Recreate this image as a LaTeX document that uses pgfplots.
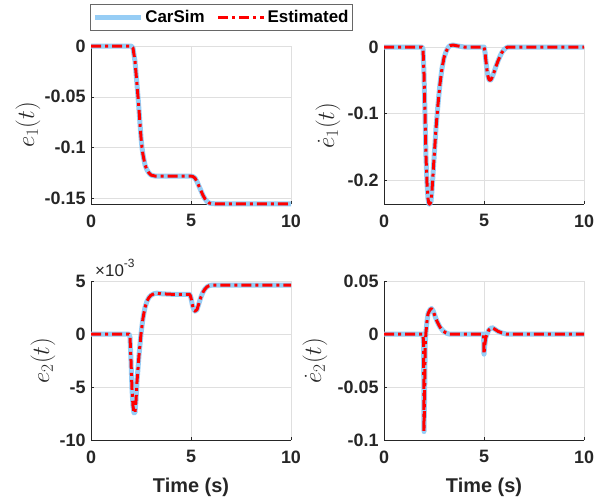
\documentclass[border=0pt]{standalone}
\usepackage{fontspec}
\setmainfont{Liberation Sans}
\usepackage{pgfplots}
\pgfplotsset{compat=1.18}
\definecolor{carsim}{RGB}{150,205,245}
\definecolor{axgray}{RGB}{38,38,38}
\begin{document}
\begin{tikzpicture}
\path[use as bounding box] (0bp,0bp) rectangle (607bp,-499bp);
\pgfplotsset{
  myax/.style={
    scale only axis, width=200bp, anchor=south west,
    xmin=0,xmax=10, xtick={0,5,10}, xticklabels={0,5,10},
    axis x line*=bottom, axis y line*=left,
    axis line style={axgray, line width=0.6bp},
    tick style={axgray, line width=0.6bp},
    tick align=inside, major tick length=3bp,
    grid=major, major grid style={line width=0.5bp, gray!25},
    ticklabel style={font=\fontsize{18}{18}\selectfont\bfseries, text=axgray},
    yticklabel style={xshift=-2bp},
    xticklabel style={yshift=-7bp},
    /pgf/number format/assume math mode=true,
    scaled ticks=false,
    clip=false,
    ylabel style={anchor=center, font=\fontsize{24}{24}\selectfont, text=axgray},
    xlabel style={anchor=center, font=\fontsize{20}{20}\selectfont\bfseries, text=axgray},
  },
  cs/.style={carsim, line width=5bp, line join=round},
  est/.style={red, line width=3bp, dash pattern=on 10bp off 4bp on 3bp off 4bp, line join=round},
}
% ---------- top left: e1 ----------
\begin{axis}[myax, at={(91bp,-204bp)}, height=158bp,
  ymin=-0.1555, ymax=0,
  ytick={-0.15,-0.1,-0.05,0}, yticklabels={-0.15,-0.1,-0.05,0},
  ylabel={$e_1(t)$}, ylabel style={at={(axis description cs:-0.315,0.5)}},
  legend columns=2,
  legend style={at={(axis description cs:-0.005,1.266)}, anchor=north west,
    draw=axgray!70, line width=0.6bp, text=black,
    font=\fontsize{17}{17}\selectfont\bfseries, inner xsep=2bp, inner ysep=4bp,
    /tikz/every even column/.append style={column sep=10bp}},
  legend image code/.code={\draw[#1] (0bp,0bp) -- (46bp,0bp);},
]
\addplot[cs] coordinates {(0,0) (2.0,0) (2.1,-0.002) (2.2,-0.015) (2.3,-0.038) (2.35,-0.05) (2.4,-0.063) (2.5,-0.09) (2.55,-0.1) (2.6,-0.107) (2.7,-0.117) (2.8,-0.122) (2.9,-0.125) (3.0,-0.127) (3.2,-0.128) (4.0,-0.128) (5.0,-0.128) (5.1,-0.1285) (5.2,-0.130) (5.3,-0.1335) (5.4,-0.138) (5.5,-0.1425) (5.6,-0.147) (5.7,-0.1505) (5.8,-0.153) (5.9,-0.1545) (6.0,-0.155) (6.2,-0.1553) (10,-0.1553)};
\addlegendentry{CarSim}
\addplot[est] coordinates {(0,0) (2.0,0) (2.1,-0.002) (2.2,-0.015) (2.3,-0.038) (2.35,-0.05) (2.4,-0.063) (2.5,-0.09) (2.55,-0.1) (2.6,-0.107) (2.7,-0.117) (2.8,-0.122) (2.9,-0.125) (3.0,-0.127) (3.2,-0.128) (4.0,-0.128) (5.0,-0.128) (5.1,-0.1285) (5.2,-0.130) (5.3,-0.1335) (5.4,-0.138) (5.5,-0.1425) (5.6,-0.147) (5.7,-0.1505) (5.8,-0.153) (5.9,-0.1545) (6.0,-0.155) (6.2,-0.1553) (10,-0.1553)};
\addlegendentry{Estimated}
\end{axis}
% ---------- top right: e1 dot ----------
\begin{axis}[myax, at={(384bp,-204bp)}, height=157bp,
  ymin=-0.236, ymax=0,
  ytick={-0.2,-0.1,0}, yticklabels={-0.2,-0.1,0},
  ylabel={$\dot{e}_1(t)$}, ylabel style={at={(axis description cs:-0.28,0.5)}},
]
\addplot[cs] coordinates {(0,0) (1.9,0) (1.95,-0.003) (2.0,-0.04) (2.05,-0.1) (2.1,-0.165) (2.15,-0.205) (2.2,-0.228) (2.25,-0.236) (2.3,-0.236) (2.35,-0.232) (2.4,-0.215) (2.45,-0.192) (2.5,-0.168) (2.6,-0.122) (2.7,-0.086) (2.8,-0.055) (2.9,-0.032) (3.0,-0.016) (3.1,-0.007) (3.2,-0.001) (3.3,0.002) (3.45,0.003) (3.6,0.002) (3.8,0.001) (4.0,0) (5.0,0) (5.05,-0.008) (5.1,-0.022) (5.15,-0.035) (5.2,-0.044) (5.25,-0.049) (5.3,-0.050) (5.35,-0.049) (5.4,-0.046) (5.5,-0.038) (5.6,-0.029) (5.7,-0.021) (5.8,-0.014) (5.9,-0.008) (6.0,-0.004) (6.1,-0.0015) (6.2,0) (10,0)};
\addplot[est] coordinates {(0,0) (1.9,0) (1.95,-0.003) (2.0,-0.04) (2.05,-0.1) (2.1,-0.165) (2.15,-0.205) (2.2,-0.228) (2.25,-0.236) (2.3,-0.236) (2.35,-0.232) (2.4,-0.215) (2.45,-0.192) (2.5,-0.168) (2.6,-0.122) (2.7,-0.086) (2.8,-0.055) (2.9,-0.032) (3.0,-0.016) (3.1,-0.007) (3.2,-0.001) (3.3,0.002) (3.45,0.003) (3.6,0.002) (3.8,0.001) (4.0,0) (5.0,0) (5.05,-0.008) (5.1,-0.022) (5.15,-0.035) (5.2,-0.044) (5.25,-0.049) (5.3,-0.050) (5.35,-0.049) (5.4,-0.046) (5.5,-0.038) (5.6,-0.029) (5.7,-0.021) (5.8,-0.014) (5.9,-0.008) (6.0,-0.004) (6.1,-0.0015) (6.2,0) (10,0)};
\end{axis}
% ---------- bottom left: e2 (x 10^-3) ----------
\begin{axis}[myax, at={(91bp,-440bp)}, height=159bp,
  ymin=-10, ymax=5,
  ytick={-10,-5,0,5}, yticklabels={-10,-5,0,5},
  ylabel={$e_2(t)$}, ylabel style={at={(axis description cs:-0.24,0.5)}},
  xlabel={Time (s)}, xlabel style={at={(axis description cs:0.5,-0.30)}},
]
\addplot[cs] coordinates {(0,0) (1.9,0) (1.95,-0.3) (2.0,-2.5) (2.05,-5.2) (2.1,-6.8) (2.15,-7.45) (2.2,-7.4) (2.25,-6.3) (2.3,-4.5) (2.4,-2.0) (2.5,0.0) (2.6,1.5) (2.7,2.5) (2.8,3.1) (2.9,3.45) (3.0,3.65) (3.15,3.8) (3.3,3.85) (3.5,3.8) (4.0,3.75) (4.9,3.75) (4.95,3.7) (5.0,3.4) (5.05,2.9) (5.1,2.5) (5.2,2.15) (5.3,2.3) (5.4,2.9) (5.5,3.5) (5.6,3.95) (5.7,4.25) (5.8,4.45) (5.9,4.55) (6.0,4.6) (6.2,4.62) (10,4.62)};
\addplot[est] coordinates {(0,0) (1.9,0) (1.95,-0.3) (2.0,-2.5) (2.05,-5.2) (2.1,-6.8) (2.15,-7.45) (2.2,-7.4) (2.25,-6.3) (2.3,-4.5) (2.4,-2.0) (2.5,0.0) (2.6,1.5) (2.7,2.5) (2.8,3.1) (2.9,3.45) (3.0,3.65) (3.15,3.8) (3.3,3.85) (3.5,3.8) (4.0,3.75) (4.9,3.75) (4.95,3.7) (5.0,3.4) (5.05,2.9) (5.1,2.5) (5.2,2.15) (5.3,2.3) (5.4,2.9) (5.5,3.5) (5.6,3.95) (5.7,4.25) (5.8,4.45) (5.9,4.55) (6.0,4.6) (6.2,4.62) (10,4.62)};
\node[anchor=base west, font=\fontsize{17}{17}\selectfont, text=axgray, inner sep=0pt] at (rel axis cs:0.02,1) [yshift=5bp] {×10\raisebox{0.5em}{\fontsize{12}{12}\selectfont -3}};
\end{axis}
% ---------- bottom right: e2 dot ----------
\begin{axis}[myax, at={(384bp,-440bp)}, height=159bp,
  ymin=-0.1, ymax=0.05,
  ytick={-0.1,-0.05,0,0.05}, yticklabels={-0.1,-0.05,0,0.05},
  ylabel={$\dot{e}_2(t)$}, ylabel style={at={(axis description cs:-0.345,0.5)}},
  xlabel={Time (s)}, xlabel style={at={(axis description cs:0.5,-0.30)}},
]
\addplot[cs] coordinates {(0,0) (1.95,0) (1.98,-0.01) (2.0,-0.092) (2.03,-0.06) (2.06,-0.01) (2.1,0.002) (2.15,0.012) (2.2,0.019) (2.3,0.023) (2.38,0.024) (2.45,0.022) (2.55,0.017) (2.65,0.012) (2.8,0.0065) (2.95,0.003) (3.1,0.001) (3.25,0) (4.98,0) (5.0,-0.019) (5.03,-0.012) (5.08,-0.004) (5.15,0.0) (5.25,0.004) (5.4,0.006) (5.5,0.005) (5.7,0.0025) (5.9,0.001) (6.1,0) (10,0)};
\addplot[est] coordinates {(0,0) (1.95,0) (1.98,-0.01) (2.0,-0.092) (2.03,-0.06) (2.06,-0.01) (2.1,0.002) (2.15,0.012) (2.2,0.019) (2.3,0.023) (2.38,0.024) (2.45,0.022) (2.55,0.017) (2.65,0.012) (2.8,0.0065) (2.95,0.003) (3.1,0.001) (3.25,0) (4.98,0) (5.0,-0.019) (5.03,-0.012) (5.08,-0.004) (5.15,0.0) (5.25,0.004) (5.4,0.006) (5.5,0.005) (5.7,0.0025) (5.9,0.001) (6.1,0) (10,0)};
\end{axis}
\end{tikzpicture}
\end{document}
